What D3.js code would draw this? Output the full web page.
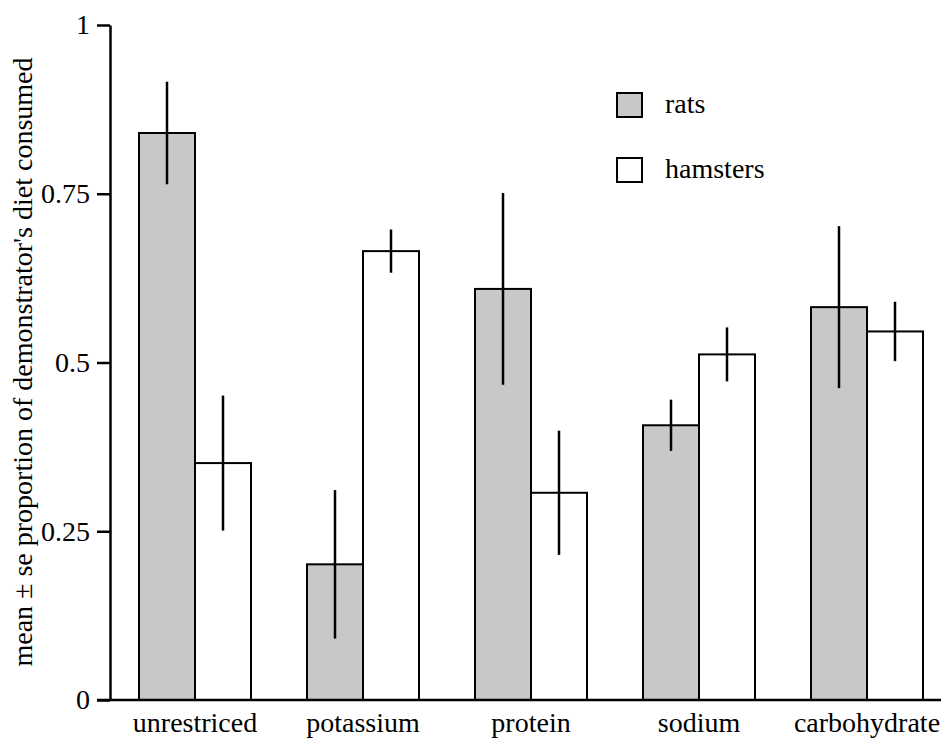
<!DOCTYPE html>
<html>
<head>
<meta charset="utf-8">
<script src="https://cdn.jsdelivr.net/npm/d3@7"></script>
<style>
  html, body { margin: 0; padding: 0; background: #fff; }
  svg { display: block; }
</style>
</head>
<body>
<script>
const categories = ["unrestriced", "potassium", "protein", "sodium", "carbohydrate"];
const seriesNames = ["rats", "hamsters"];
const ratsMean = [0.840, 0.201, 0.609, 0.407, 0.582];
const ratsSE = [0.076, 0.110, 0.142, 0.038, 0.120];
const hamstersMean = [0.351, 0.665, 0.307, 0.512, 0.546];
const hamstersSE = [0.100, 0.032, 0.092, 0.040, 0.044];
const yTicks = [0, 0.25, 0.5, 0.75, 1];
const yTickLabels = ["0", "0.25", "0.5", "0.75", "1"];
const yTitle = "mean \u00b1 se proportion of demonstrator's diet consumed";

const W = 941, H = 738;
const FS = 28;
const FONT = "'Liberation Serif', 'Times New Roman', Times, serif";
const fills = { rats: "#c8c8c8", hamsters: "#ffffff" };

const svg = d3.select("body").append("svg")
  .attr("width", W).attr("height", H)
  .style("font-family", FONT);

const y = d3.scaleLinear().domain([0, 1]).range([700, 25]);
const x0 = d3.scaleBand().domain(categories).range([111, 951]).paddingInner(1 / 3).paddingOuter(1 / 6);
const x1 = d3.scaleBand().domain(seriesNames).range([0, x0.bandwidth()]);

const data = [];
categories.forEach((c, i) => {
  data.push({ cat: c, s: "rats", m: ratsMean[i], se: ratsSE[i] });
  data.push({ cat: c, s: "hamsters", m: hamstersMean[i], se: hamstersSE[i] });
});

// bars
svg.append("g").selectAll("rect").data(data).join("rect")
  .attr("x", d => x0(d.cat) + x1(d.s))
  .attr("y", d => y(d.m))
  .attr("width", x1.bandwidth())
  .attr("height", d => y(0) - y(d.m))
  .attr("fill", d => fills[d.s])
  .attr("stroke", "#000")
  .attr("stroke-width", 2);

// error bars (mean ± se)
svg.append("g").selectAll("line").data(data).join("line")
  .attr("x1", d => x0(d.cat) + x1(d.s) + x1.bandwidth() / 2)
  .attr("x2", d => x0(d.cat) + x1(d.s) + x1.bandwidth() / 2)
  .attr("y1", d => y(d.m + d.se))
  .attr("y2", d => y(d.m - d.se))
  .attr("stroke", "#000")
  .attr("stroke-width", 2.5);

// y axis
const yAxis = d3.axisLeft(y)
  .tickValues(yTicks)
  .tickFormat((d, i) => yTickLabels[i])
  .tickSize(13)
  .tickSizeOuter(0)
  .tickPadding(7);
const gy = svg.append("g").attr("transform", "translate(110,0)").call(yAxis)
  .attr("font-family", null).attr("font-size", FS);
gy.select(".domain").attr("stroke-width", 2.5);
gy.selectAll(".tick line").attr("stroke-width", 2.5);
gy.selectAll("text").style("font-family", FONT).attr("fill", "#000");

// x baseline
svg.append("line")
  .attr("x1", 97).attr("x2", W)
  .attr("y1", y(0)).attr("y2", y(0))
  .attr("stroke", "#000").attr("stroke-width", 2.5);

// x category labels
const xAxis = d3.axisBottom(x0).tickSize(0).tickPadding(12);
const gx = svg.append("g").attr("transform", `translate(0,${y(0)})`).call(xAxis)
  .attr("font-family", null).attr("font-size", FS);
gx.select(".domain").remove();
gx.selectAll("text").style("font-family", FONT).attr("fill", "#000");

// y title
svg.append("text")
  .attr("transform", "translate(32,362) rotate(-90)")
  .attr("text-anchor", "middle")
  .attr("font-size", FS)
  .style("font-family", FONT)
  .attr("fill", "#000")
  .text(yTitle);

// legend
const legend = svg.append("g");
seriesNames.forEach((s, i) => {
  const ly = 93 + i * 65;
  legend.append("rect")
    .attr("x", 617).attr("y", ly)
    .attr("width", 25).attr("height", 24)
    .attr("fill", fills[s]).attr("stroke", "#000").attr("stroke-width", 2);
  legend.append("text")
    .attr("x", 665).attr("y", ly + 20)
    .attr("font-size", FS)
    .style("font-family", FONT)
    .attr("fill", "#000")
    .text(s);
});
</script>
</body>
</html>
